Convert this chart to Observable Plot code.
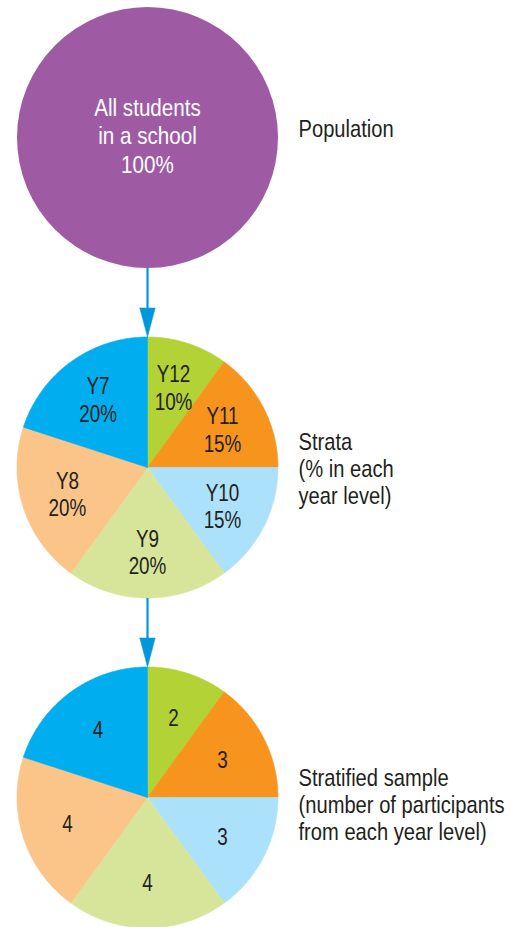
<!DOCTYPE html>
<html>
<head>
<meta charset="utf-8">
<script src="https://cdn.jsdelivr.net/npm/d3@7"></script>
<script src="https://cdn.jsdelivr.net/npm/@observablehq/plot@0.6"></script>
<style>
  html, body { margin: 0; padding: 0; background: #fff; }
  #chart svg { display: block; }
</style>
</head>
<body>
<div id="chart"></div>
<script>
// ---- data ----
const years = ["Y12", "Y11", "Y10", "Y9", "Y8", "Y7"];
const percents = [10, 15, 15, 20, 20, 20];
const participants = [2, 3, 3, 4, 4, 4];
const sliceColors = ["#b3d235", "#f7941e", "#abe1fa", "#d7e59b", "#fbc58a", "#00aeef"];
const populationText = "All students\nin a school\n100%";
const populationColor = "#9e5ba4";
const stageLabels = [
  "Population",
  "Strata\n(% in each\nyear level)",
  "Stratified sample\n(number of participants\nfrom each year level)"
];

// ---- layout ----
const W = 511, H = 927;
const cx = 147, R = 130.5;
const centersY = [137, 467, 797];
const labelX = 298;
const labelDy = [-9, 1, 7];
const arrowColor = "#0098d9";
const font = "'Liberation Sans', Arial, sans-serif";
const ink = "#231f20";

// build slice polygons
const total = d3.sum(percents);
const slices = [];
const sliceLabels = [];
[1, 2].forEach(stage => {
  const cy = centersY[stage];
  let acc = 0;
  years.forEach((yr, i) => {
    const a0 = acc / total * 2 * Math.PI;
    acc += percents[i];
    const a1 = acc / total * 2 * Math.PI;
    const key = stage + "-" + yr;
    slices.push({key, color: sliceColors[i], x: cx, y: cy});
    const n = Math.max(2, Math.ceil((a1 - a0) / (Math.PI / 360)));
    for (let k = 0; k <= n; k++) {
      const t = a0 + (a1 - a0) * k / n;
      slices.push({key, color: sliceColors[i], x: cx + R * Math.sin(t), y: cy - R * Math.cos(t)});
    }
    slices.push({key, color: sliceColors[i], x: cx, y: cy});
    const am = (a0 + a1) / 2, rl = R * 0.645;
    sliceLabels.push({
      x: cx + rl * Math.sin(am),
      y: cy - rl * Math.cos(am),
      text: stage === 1 ? `${yr}\n${percents[i]}%` : String(participants[i])
    });
  });
});

// arrows between stages
const shafts = [], heads = [];
[0, 1].forEach(s => {
  const yStart = centersY[s] + R;
  const yTip = centersY[s + 1] - R;
  const headLen = 29, halfW = 7.7;
  shafts.push({x: cx, y1: yStart, y2: yTip - headLen + 2});
  const key = "h" + s;
  heads.push({key, x: cx - halfW, y: yTip - headLen});
  heads.push({key, x: cx + halfW, y: yTip - headLen});
  heads.push({key, x: cx, y: yTip});
  heads.push({key, x: cx - halfW, y: yTip - headLen});
});

const stageText = stageLabels.map((t, i) => ({x: labelX, y: centersY[i] + labelDy[i], text: t}));

const chart = Plot.plot({
  width: W,
  height: H,
  margin: 0,
  x: {domain: [0, W], range: [0, W], axis: null},
  y: {domain: [0, H], range: [0, H], axis: null},
  color: {type: "identity"},
  style: {fontFamily: font, background: "#fff"},
  marks: [
    Plot.dot([{x: cx, y: centersY[0]}], {x: "x", y: "y", r: R, fill: populationColor, stroke: "none"}),
    Plot.line(slices, {x: "x", y: "y", z: "key", fill: "color", stroke: "color", strokeWidth: 0.6, curve: "linear"}),
    Plot.link(shafts, {x1: "x", x2: "x", y1: "y1", y2: "y2", stroke: arrowColor, strokeWidth: 2.2}),
    Plot.line(heads, {x: "x", y: "y", z: "key", fill: arrowColor, stroke: arrowColor, strokeWidth: 0.5, curve: "linear"}),
    Plot.text([{x: cx, y: centersY[0] - 2, text: populationText}], {
      x: "x", y: "y", text: "text", fill: "#fff", fontSize: 24, lineHeight: 1.17, lineAnchor: "middle",
      fontFamily: font, className: "narrow-pop"
    }),
    Plot.text(sliceLabels, {
      x: "x", y: "y", text: "text", fill: ink, fontSize: 23, lineHeight: 1.2, lineAnchor: "middle",
      fontFamily: font, className: "narrow-pie"
    }),
    Plot.text(stageText, {
      x: "x", y: "y", text: "text", fill: ink, fontSize: 24, lineHeight: 1.13, lineAnchor: "middle",
      textAnchor: "start", fontFamily: font, className: "narrow-stage"
    })
  ]
});

// condense the text horizontally (reference uses a condensed sans face)
const squeeze = {"narrow-pop": 0.86, "narrow-pie": 0.82, "narrow-stage": 0.84};
for (const [cls, k] of Object.entries(squeeze)) {
  chart.querySelectorAll(`g.${cls} text`).forEach(t => {
    const tr = t.getAttribute("transform") || "";
    t.setAttribute("transform", `${tr} scale(${k},1)`);
  });
}
document.getElementById("chart").appendChild(chart);
</script>
</body>
</html>
